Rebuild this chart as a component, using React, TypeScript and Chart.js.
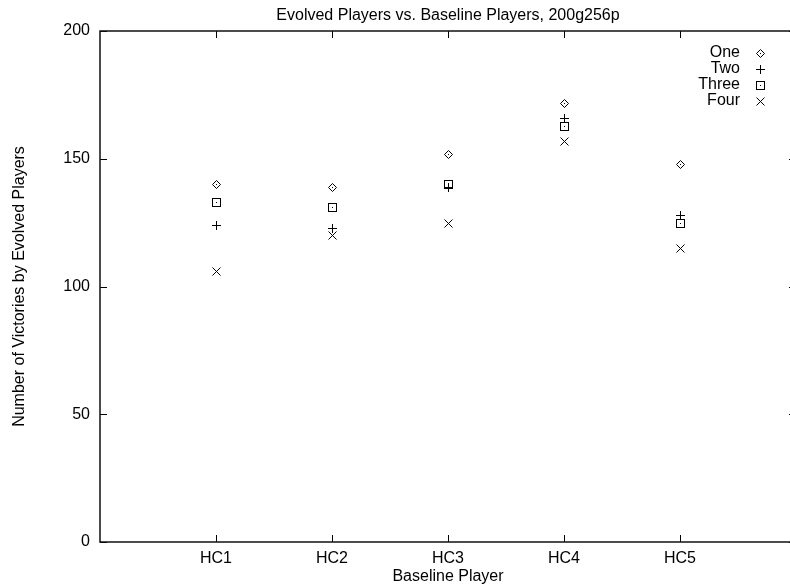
import React, { useEffect, useRef } from 'react';
import { Chart, registerables } from 'chart.js';

Chart.register(...registerables);

const categories = ['HC1', 'HC2', 'HC3', 'HC4', 'HC5'];
const seriesNames = ['One', 'Two', 'Three', 'Four'];
const one = [140, 139, 152, 172, 148];
const two = [124, 123, 139, 166, 128];
const three = [133, 131, 140, 163, 125];
const four = [106, 120, 125, 157, 115];
const yTicks = [0, 50, 100, 150, 200];
const chartTitle = 'Evolved Players vs. Baseline Players, 200g256p';
const xTitle = 'Baseline Player';
const yTitle = 'Number of Victories by Evolved Players';

const FONT = '"Liberation Sans", Arial, Helvetica, sans-serif';
const FONT_SIZE = 16;
const markerKinds = ['diamond', 'plus', 'square', 'cross'];

function drawMarker(g: CanvasRenderingContext2D, kind: string, cx: number, cy: number) {
  // cx, cy integer pixel; crisp 1px lines
  const x = Math.round(cx) + 0.5;
  const y = Math.round(cy) + 0.5;
  g.save();
  g.strokeStyle = '#000';
  g.fillStyle = '#000';
  g.lineWidth = 1;
  g.beginPath();
  if (kind === 'diamond') {
    g.moveTo(x, y - 4);
    g.lineTo(x + 4, y);
    g.lineTo(x, y + 4);
    g.lineTo(x - 4, y);
    g.closePath();
    g.stroke();
    g.fillRect(x - 0.5, y - 0.5, 1, 1);
  } else if (kind === 'plus') {
    g.moveTo(x - 4.5, y);
    g.lineTo(x + 4.5, y);
    g.moveTo(x, y - 4.5);
    g.lineTo(x, y + 4.5);
    g.stroke();
  } else if (kind === 'square') {
    g.strokeRect(x - 4, y - 4, 8, 8);
    g.fillRect(x - 0.5, y - 0.5, 1, 1);
  } else {
    g.moveTo(x - 4, y - 4);
    g.lineTo(x + 4, y + 4);
    g.moveTo(x + 4, y - 4);
    g.lineTo(x - 4, y + 4);
    g.stroke();
  }
  g.restore();
}

export default function App() {
  const ref = useRef<HTMLCanvasElement | null>(null);

  useEffect(() => {
    if (!ref.current) return;
    const seriesValues = [one, two, three, four];

    const framePlugin = {
      id: 'gnuframe',
      beforeDatasetsDraw(chart: any) {
        const { ctx, chartArea: a, scales } = chart;
        const xs = scales.x;
        const ys = scales.y;
        ctx.save();
        ctx.strokeStyle = '#000';
        ctx.lineWidth = 1;
        ctx.beginPath();
        yTicks.forEach((v) => {
          const py = Math.round(ys.getPixelForValue(v)) + 0.5;
          ctx.moveTo(a.left, py);
          ctx.lineTo(a.left + 7, py);
          ctx.moveTo(a.right, py);
          ctx.lineTo(a.right - 7, py);
        });
        categories.forEach((_, i) => {
          const px = Math.round(xs.getPixelForValue(i + 1)) + 0.5;
          ctx.moveTo(px, a.bottom);
          ctx.lineTo(px, a.bottom - 7);
          ctx.moveTo(px, a.top);
          ctx.lineTo(px, a.top + 7);
        });
        ctx.stroke();
        ctx.lineWidth = 1.5;
        ctx.strokeStyle = '#111';
        ctx.strokeRect(a.left, a.top, a.right - a.left, a.bottom - a.top);

        // title
        ctx.fillStyle = '#000';
        ctx.font = `${FONT_SIZE}px ${FONT}`;
        ctx.textAlign = 'center';
        ctx.textBaseline = 'alphabetic';
        ctx.fillText(chartTitle, (a.left + a.right) / 2, 20);

        // legend
        ctx.textAlign = 'right';
        ctx.textBaseline = 'middle';
        seriesNames.forEach((name, i) => {
          const cy = 53 + i * 16;
          ctx.fillText(name, 740, cy);
          drawMarker(ctx, markerKinds[i], 760, cy);
        });
        ctx.restore();
      },
      afterDatasetsDraw(chart: any) {
        const { ctx } = chart;
        seriesNames.forEach((_, si) => {
          const meta = chart.getDatasetMeta(si);
          meta.data.forEach((el: any) => {
            drawMarker(ctx, markerKinds[si], el.x, el.y);
          });
        });
      },
    };

    const chart = new Chart(ref.current, {
      type: 'scatter',
      data: {
        datasets: seriesNames.map((name, si) => ({
          label: name,
          data: seriesValues[si].map((v, i) => ({ x: i + 1, y: v })),
          pointRadius: 0,
          pointHoverRadius: 0,
          borderColor: '#000',
          backgroundColor: '#000',
        })),
      },
      options: {
        animation: false,
        responsive: false,
        devicePixelRatio: 1,
        layout: { padding: { top: 31, right: 14, left: 0, bottom: 0 } },
        plugins: {
          legend: { display: false },
          title: { display: false },
          tooltip: { enabled: false },
        },
        scales: {
          x: {
            type: 'linear',
            min: 0,
            max: 6,
            grid: { display: false, drawTicks: false },
            border: { display: false },
            ticks: {
              stepSize: 1,
              autoSkip: false,
              maxRotation: 0,
              padding: 7,
              color: '#000',
              font: { family: FONT, size: FONT_SIZE },
              callback: (v: any) => categories[Number(v) - 1] ?? '',
            },
            title: {
              display: true,
              text: xTitle,
              color: '#000',
              font: { family: FONT, size: FONT_SIZE },
              padding: { top: 0, bottom: 0 },
            },
            afterFit: (s: any) => {
              s.height = 44;
            },
          },
          y: {
            type: 'linear',
            min: 0,
            max: 200,
            grid: { display: false, drawTicks: false },
            border: { display: false },
            afterBuildTicks: (s: any) => {
              s.ticks = yTicks.map((v) => ({ value: v }));
            },
            ticks: {
              padding: 10,
              color: '#000',
              font: { family: FONT, size: FONT_SIZE },
            },
            title: {
              display: true,
              text: yTitle,
              color: '#000',
              font: { family: FONT, size: FONT_SIZE },
              padding: { top: 10, bottom: 0 },
            },
            afterFit: (s: any) => {
              s.width = 100;
            },
          },
        },
      },
      plugins: [framePlugin],
    });
    return () => chart.destroy();
  }, []);

  return (
    <div style={{ position: 'absolute', left: 0, top: 0, width: 790, height: 586, overflow: 'hidden', background: '#fff' }}>
      <canvas ref={ref} width={810} height={586} style={{ display: 'block', width: 810, height: 586 }} />
    </div>
  );
}
